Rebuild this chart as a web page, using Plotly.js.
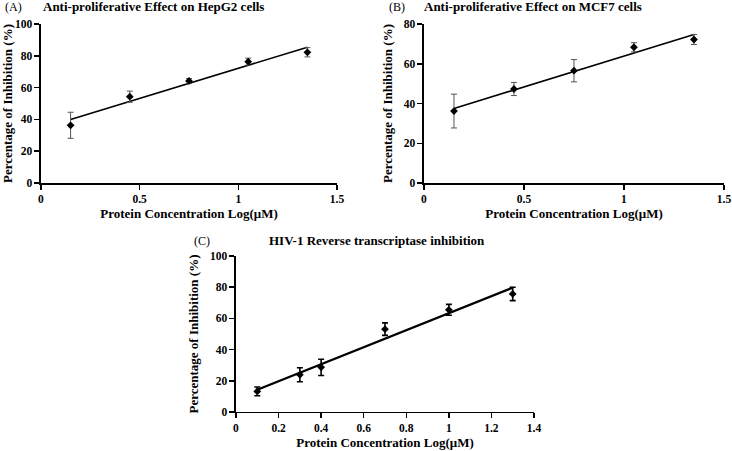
<!DOCTYPE html>
<html>
<head>
<meta charset="utf-8">
<script src="https://cdn.plot.ly/plotly-3.0.1.min.js"></script>
<style>
  html, body { margin: 0; padding: 0; background: #fff; }
  #chart { width: 732px; height: 451px; }
</style>
</head>
<body>
<div id="chart"></div>
<script>
// (A) HepG2
const xA = [0.15, 0.45, 0.75, 1.05, 1.35];
const yA = [36.3, 54.3, 64.2, 76.3, 82.2];
const eA = [8.2, 3.5, 1.5, 2.2, 2.9];
// (B) MCF7
const xB = [0.15, 0.45, 0.75, 1.05, 1.35];
const yB = [36.2, 47.3, 56.5, 68.3, 72.2];
const eB = [8.5, 3.3, 5.6, 2.3, 2.5];
// (C) HIV-1 RT
const xC = [0.1, 0.3, 0.4, 0.7, 1.0, 1.3];
const yC = [13.2, 23.9, 28.6, 53.1, 65.5, 75.7];
const eC = [2.8, 4.5, 5.2, 4.0, 3.5, 4.3];

const titles = ["Anti-proliferative Effect on HepG2 cells",
                "Anti-proliferative Effect on MCF7 cells",
                "HIV-1 Reverse transcriptase inhibition"];
const xTitle = "Protein Concentration Log(\u03bcM)";
const yTitle = "Percentage of Inhibition (%)";

// least squares line through the points, drawn between first and last x
function fitLine(x, y) {
  const n = x.length;
  const mx = x.reduce((a, b) => a + b, 0) / n;
  const my = y.reduce((a, b) => a + b, 0) / n;
  let sxy = 0, sxx = 0;
  for (let i = 0; i < n; i++) {
    sxy += (x[i] - mx) * (y[i] - my);
    sxx += (x[i] - mx) * (x[i] - mx);
  }
  const b = sxy / sxx, a = my - b * mx;
  const x0 = x[0], x1 = x[n - 1];
  return { x: [x0, x1], y: [a + b * x0, a + b * x1] };
}

function panel(x, y, e, xa, ya, errColor, errW, lineW) {
  const f = fitLine(x, y);
  return [
    { x: f.x, y: f.y, xaxis: xa, yaxis: ya, mode: "lines", type: "scatter",
      line: { color: "#000", width: lineW }, hoverinfo: "skip" },
    { x: x, y: y, xaxis: xa, yaxis: ya, mode: "markers", type: "scatter",
      marker: { symbol: "diamond", size: 6, color: "#000" },
      error_y: { type: "data", array: e, visible: true, color: errColor,
                 thickness: errW, width: 3 } }
  ];
}

const data = [].concat(
  panel(xA, yA, eA, "x", "y", "#555", 1, 1.6),
  panel(xB, yB, eB, "x2", "y2", "#555", 1, 1.6),
  panel(xC, yC, eC, "x3", "y3", "#000", 1.6, 2.4)
);

const tickFont = { family: "Liberation Serif", size: 11.5, color: "#000", weight: "bold" };
const titleFont = { family: "Liberation Serif", size: 13, color: "#000", weight: "bold" };

function xAxis(dom, anchor, range, dtick) {
  return {
    domain: dom, anchor: anchor, range: range, dtick: dtick,
    showgrid: false, zeroline: false, showline: true, linecolor: "#000", linewidth: 1.5,
    ticks: "outside", ticklen: 5, tickwidth: 1.5, tickcolor: "#000",
    tickfont: tickFont, title: { text: xTitle, font: titleFont, standoff: 4 }
  };
}
function yAxis(dom, anchor, range, dtick) {
  return {
    domain: dom, anchor: anchor, range: range, dtick: dtick,
    showgrid: false, zeroline: false, showline: true, linecolor: "#000", linewidth: 1.5,
    ticks: "outside", ticklen: 5, tickwidth: 1.5, tickcolor: "#000",
    tickfont: tickFont, title: { text: yTitle, font: titleFont, standoff: 8 }
  };
}

const layout = {
  width: 732, height: 451,
  margin: { l: 0, r: 0, t: 0, b: 0 },
  paper_bgcolor: "#fff", plot_bgcolor: "#fff",
  showlegend: false,
  xaxis: xAxis([0.056, 0.4604], "y", [0, 1.5], 0.5),
  yaxis: yAxis([0.5942, 0.9468], "x", [0, 100], 20),
  xaxis2: xAxis([0.5792, 0.989], "y2", [0, 1.5], 0.5),
  yaxis2: yAxis([0.5942, 0.9468], "x2", [0, 80], 20),
  xaxis3: xAxis([0.3224, 0.7295], "y3", [0, 1.4], 0.2),
  yaxis3: yAxis([0.0865, 0.4324], "x3", [0, 100], 20),
  annotations: [
    { text: "(A)", x: 0.004, y: 0.985, xref: "paper", yref: "paper", xanchor: "left", yanchor: "middle",
      showarrow: false, font: { family: "Liberation Serif", size: 12, color: "#000" } },
    { text: titles[0], x: 0.056, y: 0.985, xref: "paper", yref: "paper", xanchor: "left", yanchor: "middle",
      showarrow: false, font: titleFont },
    { text: "(B)", x: 0.529, y: 0.985, xref: "paper", yref: "paper", xanchor: "left", yanchor: "middle",
      showarrow: false, font: { family: "Liberation Serif", size: 12, color: "#000" } },
    { text: titles[1], x: 0.577, y: 0.985, xref: "paper", yref: "paper", xanchor: "left", yanchor: "middle",
      showarrow: false, font: titleFont },
    { text: "(C)", x: 0.262, y: 0.466, xref: "paper", yref: "paper", xanchor: "left", yanchor: "middle",
      showarrow: false, font: { family: "Liberation Serif", size: 12, color: "#000" } },
    { text: titles[2], x: 0.515, y: 0.466, xref: "paper", yref: "paper", xanchor: "center", yanchor: "middle",
      showarrow: false, font: titleFont }
  ]
};

Plotly.newPlot("chart", data, layout, { displayModeBar: false, staticPlot: true });
</script>
</body>
</html>
